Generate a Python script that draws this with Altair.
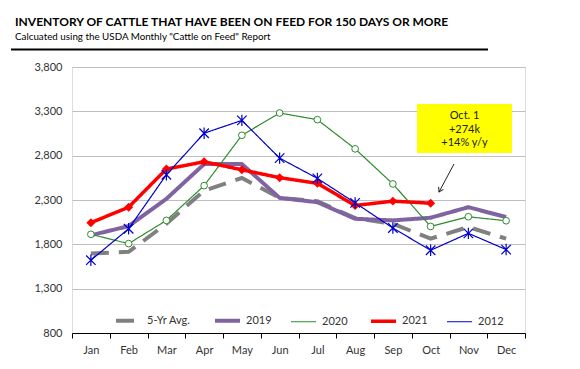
import altair as alt
import pandas as pd

months = ["Jan", "Feb", "Mar", "Apr", "May", "Jun", "Jul", "Aug", "Sep", "Oct", "Nov", "Dec"]
series_names = ["5-Yr Avg.", "2019", "2020", "2021", "2012"]
avg5 = [1696, 1715, 2032, 2406, 2548, 2324, 2286, 2096, 2032, 1864, 1995, 1864]
y2019 = [1902, 2006, 2313, 2705, 2705, 2324, 2275, 2088, 2070, 2100, 2219, 2107]
y2020 = [1913, 1808, 2070, 2462, 3030, 3281, 3206, 2877, 2481, 2002, 2111, 2066]
y2021 = [2044, 2219, 2649, 2731, 2641, 2552, 2488, 2238, 2287, 2264]
y2012 = [1621, 1976, 2585, 3053, 3198, 2772, 2544, 2268, 1984, 1733, 1924, 1741]
y_ticks = [800, 1300, 1800, 2300, 2800, 3300, 3800]
note_lines = ["Oct. 1", "+274k", "+14% y/y"]

colors = ["#808080", "#8064A2", "#2E8B2E", "#FF0000", "#0000CC"]
widths = [4, 4, 1.2, 3.5, 1.2]
dashes = [[18, 10], [1, 0], [1, 0], [1, 0], [1, 0]]

rows = []
for name, vals in zip(series_names, [avg5, y2019, y2020, y2021, y2012]):
    for m, v in zip(months, vals):
        rows.append({"month": m, "value": v, "series": name})
df = pd.DataFrame(rows)

FONT = "Lato"
x_enc = alt.X("month:N", sort=months, bandPosition=0.5,
              scale=alt.Scale(type="band", domain=months, paddingInner=0, paddingOuter=0),
              axis=alt.Axis(title=None, tickBand="extent", domainColor="black", tickColor="black",
                            tickSize=5, labelPadding=6, labelFontSize=11, labelColor="#333333",
                            labelFont=FONT, grid=False, labelAngle=0))
y_enc = alt.Y("value:Q", scale=alt.Scale(domain=[800, 3800], nice=False),
              axis=alt.Axis(title=None, values=y_ticks, format=",.0f", domain=False, ticks=False,
                            labelPadding=10, labelFontSize=11, labelColor="#333333", labelFont=FONT,
                            gridColor="#BFBFBF", gridWidth=1))

base = alt.Chart(df)

lines = base.mark_line().encode(
    x=x_enc, y=y_enc,
    color=alt.Color("series:N", sort=series_names,
                    scale=alt.Scale(domain=series_names, range=colors),
                    legend=alt.Legend(title=None, orient="none", legendX=42, legendY=239,
                                      direction="horizontal", columns=5, symbolType="stroke",
                                      symbolSize=625, labelFontSize=11, labelFont=FONT,
                                      labelColor="#333333", columnPadding=16, labelOffset=4)),
    strokeWidth=alt.StrokeWidth("series:N", sort=series_names,
                                scale=alt.Scale(type="ordinal", domain=series_names, range=widths),
                                legend=None),
    strokeDash=alt.StrokeDash("series:N", sort=series_names,
                              scale=alt.Scale(domain=series_names, range=dashes), legend=None),
)

pts2020 = base.transform_filter(alt.datum.series == "2020").mark_point(
    shape="circle", filled=True, fill="white", stroke="#2E8B2E", strokeWidth=1, size=45, opacity=1
).encode(x=x_enc, y=y_enc)

pts2021 = base.transform_filter(alt.datum.series == "2021").mark_point(
    shape="diamond", filled=True, color="#FF0000", size=80, opacity=1
).encode(x=x_enc, y=y_enc)

pts2012 = base.transform_filter(alt.datum.series == "2012").mark_point(
    shape="M-1,-1L1,1M-1,1L1,-1M0,-1.2L0,1.2", filled=False, stroke="#0000CC", strokeWidth=1.2,
    size=90, opacity=1
).encode(x=x_enc, y=y_enc)

note_box = alt.Chart(pd.DataFrame({"a": [0]})).mark_rect(color="#FFFF00").encode(
    x=alt.value(345), x2=alt.value(440), y=alt.value(37), y2=alt.value(86))
note_text = alt.Chart(pd.DataFrame({"a": [0]})).mark_text(
    fontSize=11, font=FONT, color="#222222", lineHeight=13.5, baseline="top", align="center"
).encode(x=alt.value(392.5), y=alt.value(43), text=alt.value(note_lines))
arrow = alt.Chart(pd.DataFrame({"a": [0]})).mark_rule(color="#222222", strokeWidth=1).encode(
    x=alt.value(382), y=alt.value(97), x2=alt.value(367), y2=alt.value(125))
arrow_head = alt.Chart(pd.DataFrame({"a": [0]})).mark_point(
    shape="M-1,-1.6L0,0L1,-1.6", filled=False, stroke="#222222", strokeWidth=1, angle=28, size=30,
    opacity=1
).encode(x=alt.value(367), y=alt.value(125))

underline = alt.Chart(pd.DataFrame({"a": [0]})).mark_rule(color="black", strokeWidth=2).encode(
    x=alt.value(-61), x2=alt.value(416), y=alt.value(-17.5))

chart = alt.layer(
    lines, pts2020, pts2021, pts2012, note_box, note_text, arrow, arrow_head, underline
).properties(
    width=453, height=266,
    padding={"left": 2, "top": 7, "right": 5, "bottom": 5},
    title=alt.TitleParams(
        text="INVENTORY OF CATTLE THAT HAVE BEEN ON FEED FOR 150 DAYS OR MORE",
        subtitle='Calcuated using the USDA Monthly "Cattle on Feed" Report',
        anchor="start", frame="group", dx=-57, font=FONT, fontSize=12, fontWeight="bold",
        color="black", subtitleFont=FONT, subtitleFontSize=9.8, subtitleColor="black",
        subtitlePadding=3, offset=6),
).configure_view(stroke=None).configure(background="white")

chart.save("out.html", embed_options={"renderer": "svg", "actions": False})
